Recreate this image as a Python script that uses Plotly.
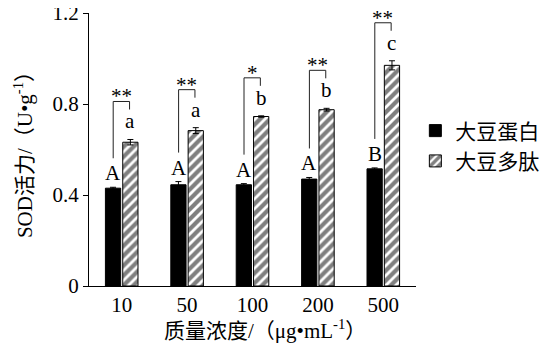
import plotly.graph_objects as go

categories = ["10", "50", "100", "200", "500"]
protein = [0.430, 0.445, 0.445, 0.470, 0.515]
protein_err = [0.004, 0.014, 0.005, 0.007, 0.004]
peptide = [0.632, 0.683, 0.745, 0.775, 0.970]
peptide_err = [0.012, 0.013, 0.003, 0.006, 0.020]
upper_letters = ["A", "A", "A", "A", "B"]
lower_letters = ["a", "a", "b", "b", "c"]
significance = ["**", "**", "*", "**", "**"]
series_names = ["大豆蛋白", "大豆多肽"]
y_ticks = [0, 0.4, 0.8, 1.2]
y_tick_labels = ["0", "0.4", "0.8", "1.2"]
x_title = "质量浓度/（μg•mL<sup>-1</sup>）"
y_title = "SOD活力/（U•g<sup>-1</sup>）"

FONT = "Liberation Serif, 'Noto Sans CJK SC', serif"
PX = 1.2 / 273.0  # data units per pixel

fig = go.Figure()
fig.add_trace(go.Bar(
    x=categories, y=protein, name=series_names[0],
    marker=dict(color="black", line=dict(color="black", width=1)),
    error_y=dict(type="data", array=protein_err, color="black", thickness=1, width=3),
))
fig.add_trace(go.Bar(
    x=categories, y=peptide, name=series_names[1],
    marker=dict(color="white", line=dict(color="black", width=1),
                pattern=dict(shape="/", fgcolor="black", bgcolor="white", size=7, solidity=0.6)),
    error_y=dict(type="data", array=peptide_err, color="black", thickness=1, width=3),
))

off = 0.13
for i in range(len(categories)):
    b_top = protein[i] + protein_err[i]
    p_top = peptide[i] + peptide_err[i]
    top = p_top + 38 * PX
    left_bot = b_top + 29 * PX
    right_bot = top - 8 * PX
    xl, xr = i - off, i + off - 0.01
    fig.add_shape(type="path",
                  path=f"M {xl} {left_bot} L {xl} {top} L {xr} {top} L {xr} {right_bot}",
                  xref="x", yref="y", line=dict(color="#222", width=1))
    fig.add_annotation(x=(xl + xr) / 2, y=top, text=significance[i], showarrow=False,
                       xref="x", yref="y", yanchor="bottom", yshift=-9,
                       font=dict(family=FONT, size=21, color="black"))
    fig.add_annotation(x=i - off, y=b_top, text=upper_letters[i], showarrow=False,
                       xref="x", yref="y", yanchor="middle", yshift=14,
                       font=dict(family=FONT, size=21, color="black"))
    fig.add_annotation(x=i + off, y=p_top, text=lower_letters[i], showarrow=False,
                       xref="x", yref="y", yanchor="middle", yshift=18,
                       font=dict(family=FONT, size=21, color="black"))

fig.add_annotation(x=0.537, y=-0.161, xref="paper", yref="paper", text=x_title,
                   showarrow=False, xanchor="center", yanchor="middle",
                   font=dict(family=FONT, size=21, color="black"))

fig.update_layout(
    width=541, height=349,
    margin=dict(l=81, r=106, t=5, b=71),
    paper_bgcolor="white", plot_bgcolor="white",
    barmode="group", bargap=0.47, bargroupgap=0.12,
    showlegend=True,
    legend=dict(x=0.998, y=0.643, xanchor="left", yanchor="top",
                font=dict(family=FONT, size=21, color="black"),
                bgcolor="rgba(0,0,0,0)", itemwidth=30, tracegroupgap=0),
    font=dict(family=FONT, size=21, color="black"),
)
fig.update_xaxes(
    type="category", range=[-0.5, 4.5], showline=True, linecolor="black", linewidth=1,
    ticks="", showgrid=False, automargin=False,
    tickfont=dict(family=FONT, size=21, color="black"),
)
fig.update_yaxes(
    range=[0, 1.2], showline=True, linecolor="black", linewidth=1,
    ticks="outside", ticklen=5, tickcolor="black", automargin=False,
    ticklabeloverflow="allow",
    tickvals=y_ticks, ticktext=y_tick_labels, showgrid=False, zeroline=False,
    tickfont=dict(family=FONT, size=21, color="black"),
    title=dict(text=y_title, font=dict(family=FONT, size=21), standoff=14),
)

fig.write_html("out.html")
